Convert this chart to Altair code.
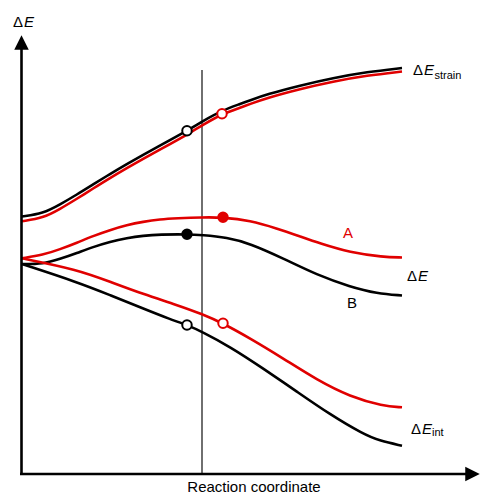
import altair as alt
import pandas as pd

# ---- curve data (reaction coordinate u, energy v) ----
strain_black_u = [2, 23, 40, 57, 73, 90, 107, 123, 140, 167, 183, 202, 220, 230, 247, 280, 313, 347, 382]
strain_black_v = [256.5, 259.5, 268.5, 278.5, 288.5, 299, 309, 318.2, 327.5, 342.3, 352, 362.5, 369, 372.7, 378.7, 387.5, 395, 401, 405]
strain_red_u = [2, 23, 40, 57, 73, 90, 107, 123, 140, 167, 183, 202, 220, 230, 247, 280, 313, 347, 382]
strain_red_v = [251.8, 255, 264, 274.3, 284.4, 295, 305, 314.2, 323.5, 338.3, 348.2, 359, 365.2, 369, 375, 384, 391.5, 397.5, 401.5]

de_black_u = [2, 23, 40, 57, 73, 90, 107, 123, 140, 167, 182, 207, 230, 263, 297, 330, 357, 382]
de_black_v = [209, 209, 214, 220, 226, 231.3, 235, 237.3, 238.5, 238.7, 238, 235.5, 229.5, 214.7, 198, 186.3, 179.5, 177.5]
de_red_u = [2, 23, 40, 57, 73, 90, 107, 123, 140, 157, 182, 203, 230, 257, 280, 300, 330, 363, 382]
de_red_v = [214.7, 218, 223.7, 230.3, 237, 243, 248, 251.3, 253.7, 254.7, 255.7, 255.7, 252.5, 244.5, 236.5, 229.5, 220.5, 216, 215.5]

int_black_u = [2, 57, 90, 123, 150, 167, 182, 210, 243, 277, 310, 343, 360, 382]
int_black_v = [209, 191, 178, 164.5, 153.8, 148, 141.3, 126.3, 104.7, 81.3, 58.5, 39, 32, 27.3]
int_red_u = [2, 57, 90, 123, 157, 182, 203, 230, 263, 297, 330, 363, 382]
int_red_v = [214.7, 203.5, 191.3, 179, 168, 159, 149.7, 134.7, 114.7, 93, 76.3, 67, 65.7]

# markers
marker_u = [167, 167, 167, 202, 203, 203]
marker_v = [342.3, 238.7, 148, 359.2, 255.7, 149.7]
marker_color = ["black", "black", "black", "#e00000", "#e00000", "#e00000"]
marker_fill = ["white", "black", "white", "white", "#e00000", "white"]

# transition line position
ts_u = [182]
ts_v_top = [403]

RED = "#e00000"
FONT = "Liberation Sans"

rows = []
for name, us, vs, col in [
    ("strain_black", strain_black_u, strain_black_v, "black"),
    ("strain_red", strain_red_u, strain_red_v, RED),
    ("de_black", de_black_u, de_black_v, "black"),
    ("de_red", de_red_u, de_red_v, RED),
    ("int_black", int_black_u, int_black_v, "black"),
    ("int_red", int_red_u, int_red_v, RED),
]:
    for i, (u, v) in enumerate(zip(us, vs)):
        rows.append({"series": name, "u": u, "v": v, "color": col, "order": i})
curves = pd.DataFrame(rows)

xs = alt.Scale(domain=[-12, 460], nice=False, zero=False)
ys = alt.Scale(domain=[-21, 465], nice=False, zero=False)

def X(f="u"):
    return alt.X(f"{f}:Q", scale=xs, axis=None)

def Y(f="v"):
    return alt.Y(f"{f}:Q", scale=ys, axis=None)

lines = alt.Chart(curves).mark_line(strokeWidth=2.6, interpolate="basis").encode(
    x=X(), y=Y(), detail="series:N", order="order:Q",
    color=alt.Color("color:N", scale=None),
)

vline = alt.Chart(pd.DataFrame({"u": ts_u, "v": [0], "v2": ts_v_top})).mark_rule(
    color="#333333", strokeWidth=1.4
).encode(x=X(), y=Y(), y2="v2:Q")

mk = pd.DataFrame({"u": marker_u, "v": marker_v, "c": marker_color, "f": marker_fill})
markers = alt.Chart(mk).mark_point(filled=False, size=90, strokeWidth=2, opacity=1).encode(
    x=X(), y=Y(),
    stroke=alt.Stroke("c:N", scale=None),
    fill=alt.Fill("f:N", scale=None),
)

# axes
yaxis = alt.Chart(pd.DataFrame({"u": [1.5], "v": [-1], "v2": [426]})).mark_rule(
    color="black", strokeWidth=2.6).encode(x=X(), y=Y(), y2="v2:Q")
xaxis = alt.Chart(pd.DataFrame({"u": [0], "u2": [448], "v": [-1]})).mark_rule(
    color="black", strokeWidth=2.6).encode(x=X(), x2="u2:Q", y=Y())
arr_up = alt.Chart(pd.DataFrame({"u": [1.5], "v": [430.5]})).mark_point(
    shape="M0,-1L1,1L-1,1Z", size=210, filled=True, color="black", opacity=1).encode(x=X(), y=Y())
arr_right = alt.Chart(pd.DataFrame({"u": [452.5], "v": [-1]})).mark_point(
    shape="M1,0L-1,-1L-1,1Z", size=210, filled=True, color="black", opacity=1).encode(x=X(), y=Y())

def txt(df, size=15, style="normal", color="black", align="left"):
    return alt.Chart(df).mark_text(
        font=FONT, fontSize=size, fontStyle=style, color=color, align=align, baseline="alphabetic"
    ).encode(x=X(), y=Y(), text="t:N")

delta = pd.DataFrame({"u": [-7, 393, 387, 391], "v": [446, 398, 192, 39], "t": ["Δ"] * 4})
ees = pd.DataFrame({"u": [4, 404, 398, 402], "v": [446, 398, 192, 39], "t": ["E"] * 4})
subs = pd.DataFrame({"u": [414.5, 412], "v": [394, 37], "t": ["strain", "int"]})
labA = pd.DataFrame({"u": [328], "v": [235], "t": ["A"]})
labB = pd.DataFrame({"u": [332], "v": [165], "t": ["B"]})
xlab = pd.DataFrame({"u": [234], "v": [-19], "t": ["Reaction coordinate"]})

chart = alt.layer(
    vline, lines, markers, yaxis, xaxis, arr_up, arr_right,
    txt(delta), txt(ees, style="italic"), txt(subs, size=11),
    txt(labA, color=RED, align="center"), txt(labB, align="center"),
    txt(xlab, align="center"),
).properties(
    width=472, height=486, padding=0, autosize=alt.AutoSizeParams(type="none")
).configure_view(stroke=None)

chart.save("out.html", embed_options={"renderer": "svg", "actions": False})
